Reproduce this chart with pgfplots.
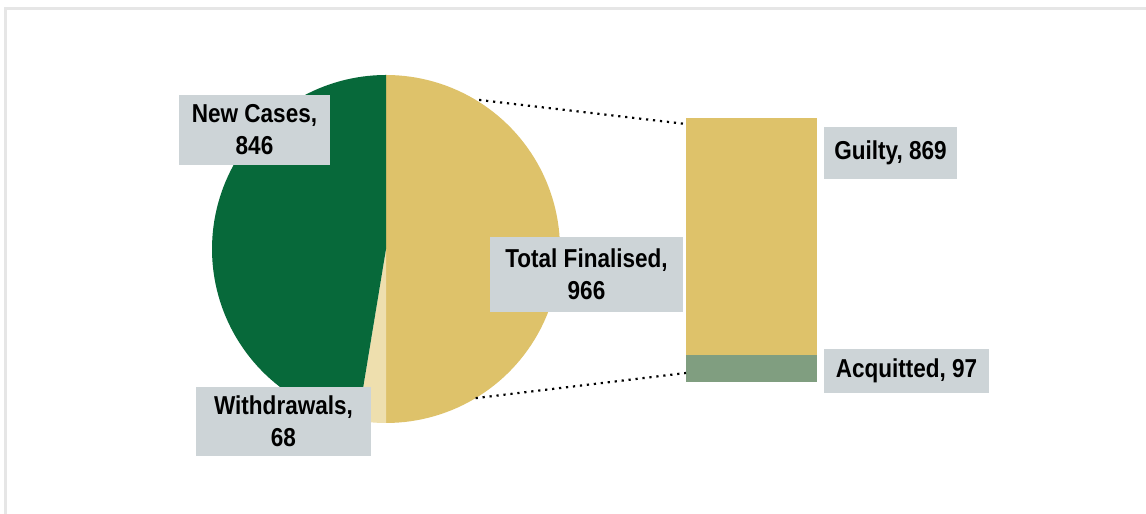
\documentclass[border=0pt]{standalone}
\usepackage{pgfplots}
\usepackage{pgfplotstable}
\pgfplotsset{compat=1.18}
\usepgfplotslibrary{polar}
\usepackage{fontspec}
\setmainfont{Liberation Sans}[FakeStretch=0.87]
\definecolor{dkgreen}{HTML}{07693A}
\definecolor{gold}{HTML}{DEC26A}
\definecolor{lightgold}{HTML}{EEDFAE}
\definecolor{sage}{HTML}{809E80}
\definecolor{lblgray}{HTML}{CDD4D7}
\definecolor{framegray}{HTML}{E6E6E6}

% value = labelled count; share = slice size (percent) as drawn in the chart
\pgfplotstableread{
name value share
New 846 47.4
Withdrawals 68 2.6
Finalised 966 50.0
}\pietable
\pgfplotstableread{
x guilty acquitted
0 869 97
}\bartable

\begin{document}
\begin{tikzpicture}[x=1bp,y=1bp]
\useasboundingbox (0,0) rectangle (1146,514);
\fill[white] (0,0) rectangle (1146,514);
\draw[framegray, line width=3bp] (1146,505) -- (5.5,505) -- (5.5,0);

\pgfplotstablegetelem{0}{share}\of\pietable \let\sNew\pgfplotsretval
\pgfplotstablegetelem{1}{share}\of\pietable \let\sWd\pgfplotsretval
\pgfplotstablegetelem{2}{share}\of\pietable \let\sFin\pgfplotsretval
\pgfmathsetmacro{\tot}{\sNew+\sWd+\sFin}
\pgfmathsetmacro{\g}{\sFin/\tot*180}
\pgfmathsetmacro{\l}{\sWd/\tot*360}
\pgfmathsetmacro{\ga}{-\g}
\pgfmathsetmacro{\la}{-\g-\l}
\pgfmathsetmacro{\da}{360-\g-\l}

\begin{polaraxis}[
  at={(386bp,265bp)}, anchor=center,
  scale only axis, width=348bp, height=348bp,
  xmin=0, xmax=360, ymin=0, ymax=1,
  axis lines=none, ticks=none, clip=false]
  \addplot[fill=gold, draw=none, domain=\ga:\g, samples=90] {1} -- (axis cs:0,0) -- cycle;
  \addplot[fill=lightgold, draw=none, domain=\la:\ga, samples=20] {1} -- (axis cs:0,0) -- cycle;
  \addplot[fill=dkgreen, draw=none, domain=\g:\da, samples=90] {1} -- (axis cs:0,0) -- cycle;
  \coordinate (p1) at (axis cs:58,1.01);
  \coordinate (p2) at (axis cs:-59,1.0);
\end{polaraxis}

\begin{axis}[
  at={(686bp,132bp)}, anchor=south west,
  scale only axis, width=131bp, height=264bp,
  xmin=-0.5, xmax=0.5, ymin=0, ymax=966,
  axis lines=none, ticks=none, clip=false,
  ybar stacked, bar width=131bp]
  \addplot[fill=sage, draw=none] table[x=x, y=acquitted] {\bartable};
  \addplot[fill=gold, draw=none] table[x=x, y=guilty] {\bartable};
  \draw[white, line width=1.2bp] (axis cs:-0.5,97) -- (axis cs:0.5,97);
  \coordinate (b1) at (axis cs:-0.5,944);
  \coordinate (b2) at (axis cs:-0.5,33);
\end{axis}

\draw[black, line width=2.2bp, dash pattern=on 2.2bp off 4.8bp] (p1) -- (b1);
\draw[black, line width=2.2bp, dash pattern=on 2.2bp off 4.8bp] (p2) -- (b2);

\tikzset{lbl/.style={fill=lblgray, inner sep=0pt, align=center, font=\fontsize{26}{32}\selectfont\bfseries}}
\node[lbl, minimum width=151bp, minimum height=70bp] at (254.5,384) {New Cases,\\846};
\node[lbl, minimum width=175bp, minimum height=69bp] at (283.5,92.5) {Withdrawals,\\68};
\node[lbl, minimum width=193bp, minimum height=75bp] at (586.5,239.5) {Total Finalised,\\966};
\node[lbl, minimum width=133bp, minimum height=52bp] at (890.5,361) {Guilty, 869};
\node[lbl, minimum width=165bp, minimum height=44bp] at (906.5,143) {Acquitted, 97};
\end{tikzpicture}
\end{document}
